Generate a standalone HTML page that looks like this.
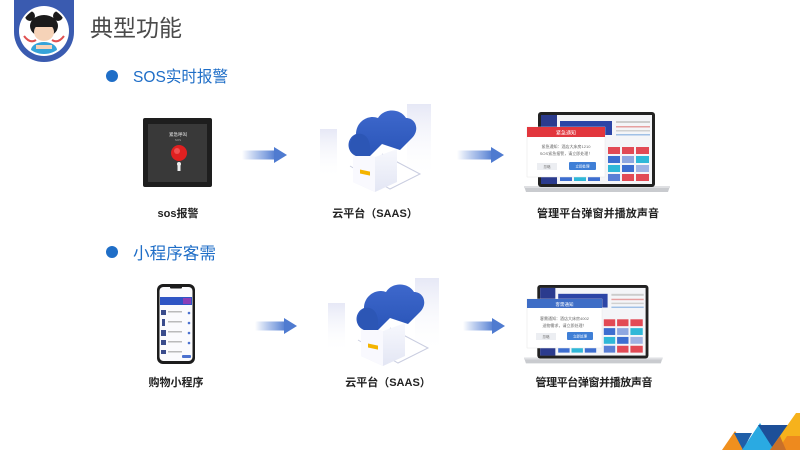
<!DOCTYPE html>
<html><head><meta charset="utf-8">
<style>
html,body{margin:0;padding:0;background:#fff;}
body{width:800px;height:450px;overflow:hidden;position:relative;font-family:"Liberation Sans","Noto Sans CJK SC",sans-serif;}
svg{position:absolute;left:0;top:0;}
.lbl{font-family:"Liberation Sans","Noto Sans CJK SC",sans-serif;font-weight:bold;font-size:11px;fill:#222;}
</style></head>
<body>
<svg width="800" height="450" viewBox="0 0 800 450" xmlns="http://www.w3.org/2000/svg">
<defs>
  <linearGradient id="arr" x1="0" x2="1" y1="0" y2="0">
    <stop offset="0" stop-color="#5b85d6" stop-opacity="0"/>
    <stop offset="0.6" stop-color="#6a90da" stop-opacity="0.7"/>
    <stop offset="1" stop-color="#4f7bd0"/>
  </linearGradient>
  <linearGradient id="cloudg" x1="0" x2="0" y1="0" y2="1">
    <stop offset="0" stop-color="#3e68cc"/>
    <stop offset="1" stop-color="#2a55b8"/>
  </linearGradient>
  <linearGradient id="barg" x1="0" x2="0" y1="0" y2="1">
    <stop offset="0" stop-color="#e6e8f6"/>
    <stop offset="1" stop-color="#ffffff" stop-opacity="0"/>
  </linearGradient>
  <linearGradient id="boxg" x1="0" x2="0" y1="0" y2="1">
    <stop offset="0" stop-color="#f7f8fd"/>
    <stop offset="1" stop-color="#e3e6f4"/>
  </linearGradient>
  <clipPath id="cc"><circle cx="44" cy="31" r="23"/></clipPath>

  <g id="cloud">
    <!-- back bars -->
    <rect x="87" y="0" width="24" height="75" fill="url(#barg)"/>
    <rect x="0" y="25" width="17" height="50" fill="url(#barg)"/>
    <!-- platform line -->
    <path d="M30 62 L70 85 L100 70 L62 50" fill="none" stroke="#c9cde0" stroke-width="1"/>
    <!-- box -->
    <path d="M33 45 L55 53 L77 45 L77 78 L55 88 L33 78 Z" fill="url(#boxg)"/>
    <path d="M33 45 L55 53 L55 88 L33 78 Z" fill="#f9f9fe"/>
    <rect x="40" y="66" width="10" height="4" fill="#f4b400" transform="skewY(12) translate(0,-9)"/>
    <!-- cloud -->
    <path d="M36 52 C26 48 26 34 36 30 C36 18 48 10 58 14 C64 4 80 4 86 14 C96 14 100 26 92 34 L80 46 L62 40 L50 52 Z" fill="url(#cloudg)"/>
    <path d="M36 30 C44 28 50 34 50 44 L50 52 L36 52 C28 48 28 36 36 30Z" fill="#2c56b5"/>
  </g>

  <g id="laptop">
    <!-- base -->
    <path d="M0 74 L146 74 L144 80 L2 80 Z" fill="#c9cbcf"/>
    <rect x="0" y="74" width="146" height="2" fill="#dfe0e3"/>
    <!-- bezel -->
    <rect x="14" y="0" width="117" height="75" rx="3" fill="#222"/>
    <rect x="17" y="3" width="111" height="69" fill="#f4f5f8"/>
    <rect x="17" y="3" width="16" height="69" fill="#2b3b8e"/>
    <rect x="36" y="9" width="52" height="14" fill="#2c45a6"/>
    <rect x="92" y="9" width="34" height="2" fill="#ccc"/>
    <rect x="92" y="14" width="34" height="1.5" fill="#e6a0a0"/>
    <rect x="92" y="18" width="34" height="1.5" fill="#d0d0d0"/>
    <rect x="92" y="22" width="34" height="1.5" fill="#a0c0e6"/>
    <!-- tiles -->
    <g>
      <rect x="84" y="35" width="12" height="7" fill="#e24a55"/>
      <rect x="98" y="35" width="12" height="7" fill="#e24a55"/>
      <rect x="112" y="35" width="13" height="7" fill="#e24a55"/>
      <rect x="84" y="44" width="12" height="7" fill="#3d6ed0"/>
      <rect x="98" y="44" width="12" height="7" fill="#8fa7e0"/>
      <rect x="112" y="44" width="13" height="7" fill="#2fb8d8"/>
      <rect x="84" y="53" width="12" height="7" fill="#2fb8d8"/>
      <rect x="98" y="53" width="12" height="7" fill="#3d6ed0"/>
      <rect x="112" y="53" width="13" height="7" fill="#9fb3e4"/>
      <rect x="84" y="62" width="12" height="7" fill="#5a7fd5"/>
      <rect x="98" y="62" width="12" height="7" fill="#e24a55"/>
      <rect x="112" y="62" width="13" height="7" fill="#e24a55"/>
      <rect x="36" y="64" width="12" height="5" fill="#3d6ed0"/>
      <rect x="50" y="64" width="12" height="5" fill="#2fb8d8"/>
      <rect x="64" y="64" width="12" height="5" fill="#3d6ed0"/>
    </g>
  </g>
</defs>

<!-- Logo badge -->
<path d="M14 0 L74 0 L74 32 A30 30 0 0 1 14 32 Z" fill="#3a5bb0"/>
<circle cx="44" cy="31" r="25" fill="#fff"/>
<g clip-path="url(#cc)">
  <circle cx="44" cy="31" r="23" fill="#fff"/>
  <ellipse cx="44" cy="26" rx="14" ry="11" fill="#1b1b1b"/>
  <circle cx="30" cy="16" r="5" fill="#1b1b1b"/>
  <circle cx="58" cy="16" r="5" fill="#1b1b1b"/>
  <ellipse cx="44" cy="32" rx="10" ry="9" fill="#f6d3b8"/>
  <rect x="34" y="22" width="20" height="5" fill="#1b1b1b"/>
  <path d="M24 36 Q30 44 36 40" stroke="#e05050" stroke-width="2" fill="none"/>
  <path d="M64 36 Q58 44 52 40" stroke="#e05050" stroke-width="2" fill="none"/>
  <ellipse cx="44" cy="50" rx="13" ry="8" fill="#36a3d9"/>
  <rect x="36" y="45" width="16" height="4" fill="#f6d3b8"/>
</g>

<!-- Title -->
<text x="90" y="36" font-family="'Liberation Sans','Noto Sans CJK SC',sans-serif" font-size="23" fill="#4a4a4a">典型功能</text>

<!-- Bullet 1 -->
<circle cx="112" cy="76" r="6" fill="#1f6ec7"/>
<text x="133" y="82" font-family="'Liberation Sans','Noto Sans CJK SC',sans-serif" font-size="16" fill="#1f6ec7" textLength="95" lengthAdjust="spacingAndGlyphs">SOS实时报警</text>

<!-- SOS device -->
<rect x="143" y="118" width="69" height="69" rx="2" fill="#1e1e1e"/>
<rect x="148" y="124" width="59" height="58" fill="#393939"/>
<text x="178" y="136" font-size="4.5" fill="#eee" text-anchor="middle" font-family="'Liberation Sans','Noto Sans CJK SC',sans-serif">紧急呼叫</text>
<text x="178" y="141" font-size="3" fill="#aaa" text-anchor="middle">SOS</text>
<circle cx="179" cy="153" r="8" fill="#e02020"/>
<circle cx="177" cy="151" r="3" fill="#f05050"/>
<rect x="177.5" y="164" width="3" height="7" fill="#eee"/>
<circle cx="179" cy="164" r="2" fill="#eee"/>

<!-- Arrows -->
<rect x="242" y="150.5" width="34" height="9" fill="url(#arr)"/>
<path d="M274 147 L287 155 L274 163 Z" fill="#4f7bd0"/>
<rect x="457" y="150.5" width="36" height="9" fill="url(#arr)"/>
<path d="M491 147 L504 155 L491 163 Z" fill="#4f7bd0"/>
<rect x="255" y="321.5" width="31" height="9" fill="url(#arr)"/>
<path d="M284 318 L297 326 L284 334 Z" fill="#4f7bd0"/>
<rect x="463" y="321.5" width="31" height="9" fill="url(#arr)"/>
<path d="M492 318 L505 326 L492 334 Z" fill="#4f7bd0"/>

<!-- Cloud 1 -->
<use href="#cloud" transform="translate(320,104)"/>
<!-- Cloud 2 -->
<use href="#cloud" transform="translate(328,278)"/>

<!-- Laptop 1 -->
<use href="#laptop" transform="translate(524,112)"/>
<g>
  <rect x="527" y="127" width="78" height="50" fill="#fff" stroke="#e6e6e6" stroke-width="0.5"/>
  <rect x="527" y="127" width="78" height="10" fill="#e2363d"/>
  <text x="566" y="134.5" font-size="5" fill="#fff" text-anchor="middle" font-family="'Liberation Sans','Noto Sans CJK SC',sans-serif">紧急通知</text>
  <text x="566" y="148" font-size="4" fill="#666" text-anchor="middle" font-family="'Liberation Sans','Noto Sans CJK SC',sans-serif">紧急通知：酒店大床房1210</text>
  <text x="566" y="155" font-size="4" fill="#666" text-anchor="middle" font-family="'Liberation Sans','Noto Sans CJK SC',sans-serif">SOS紧急报警，请立即处理！</text>
  <rect x="537" y="163" width="20" height="7" fill="#eceef2"/>
  <text x="547" y="168" font-size="3.5" fill="#777" text-anchor="middle" font-family="'Liberation Sans','Noto Sans CJK SC',sans-serif">忽略</text>
  <rect x="569" y="162" width="27" height="8" rx="1" fill="#3f7fd6"/>
  <text x="582.5" y="167.5" font-size="3.5" fill="#fff" text-anchor="middle" font-family="'Liberation Sans','Noto Sans CJK SC',sans-serif">立即处理</text>
</g>

<!-- Laptop 2 -->
<use href="#laptop" transform="translate(524,285) scale(0.95,0.98)"/>
<g>
  <rect x="527" y="299" width="75" height="49" fill="#fff" stroke="#e6e6e6" stroke-width="0.5"/>
  <rect x="527" y="299" width="75" height="9" fill="#3e6dc6"/>
  <text x="564.5" y="306" font-size="4.5" fill="#fff" text-anchor="middle" font-family="'Liberation Sans','Noto Sans CJK SC',sans-serif">客需通知</text>
  <text x="564.5" y="320" font-size="4" fill="#666" text-anchor="middle" font-family="'Liberation Sans','Noto Sans CJK SC',sans-serif">客需通知：酒店大床房4002</text>
  <text x="564.5" y="327" font-size="4" fill="#666" text-anchor="middle" font-family="'Liberation Sans','Noto Sans CJK SC',sans-serif">送物需求，请立即处理！</text>
  <rect x="536" y="333" width="20" height="7" fill="#eceef2"/>
  <text x="546" y="338" font-size="3.5" fill="#777" text-anchor="middle" font-family="'Liberation Sans','Noto Sans CJK SC',sans-serif">忽略</text>
  <rect x="567" y="332" width="26" height="8" rx="1" fill="#3f7fd6"/>
  <text x="580" y="337.5" font-size="3.5" fill="#fff" text-anchor="middle" font-family="'Liberation Sans','Noto Sans CJK SC',sans-serif">立即处理</text>
</g>

<!-- Row 1 labels -->
<text class="lbl" x="178" y="217" text-anchor="middle">sos报警</text>
<text class="lbl" x="375" y="217" text-anchor="middle">云平台（SAAS）</text>
<text class="lbl" x="598" y="217" text-anchor="middle" textLength="122" lengthAdjust="spacing">管理平台弹窗并播放声音</text>

<!-- Bullet 2 -->
<circle cx="112" cy="252" r="6" fill="#1f6ec7"/>
<text x="133" y="259" font-family="'Liberation Sans','Noto Sans CJK SC',sans-serif" font-size="16.5" fill="#1f6ec7" textLength="83" lengthAdjust="spacingAndGlyphs">小程序客需</text>

<!-- Phone -->
<rect x="157" y="284" width="38" height="80" rx="6" fill="#1c1c1c"/>
<rect x="159.5" y="287" width="33" height="74" rx="4" fill="#fbfbfd"/>
<rect x="170" y="286" width="12" height="2.5" rx="1" fill="#1c1c1c"/>
<rect x="160" y="297" width="32" height="8" fill="#2f55c4"/>
<rect x="183" y="298" width="8" height="6" fill="#8a3fb8"/>
<g fill="#3a4c8c">
  <rect x="161" y="310" width="5" height="5"/>
  <rect x="162" y="319" width="3" height="7"/>
  <rect x="161" y="330" width="5" height="6"/>
  <rect x="161" y="340" width="5" height="5"/>
  <rect x="161" y="350" width="5" height="4"/>
</g>
<g fill="#bbb">
  <rect x="168" y="311" width="14" height="1.5"/>
  <rect x="168" y="321" width="14" height="1.5"/>
  <rect x="168" y="331" width="14" height="1.5"/>
  <rect x="168" y="341" width="14" height="1.5"/>
  <rect x="168" y="351" width="14" height="1.5"/>
</g>
<g fill="#4c72cf">
  <circle cx="189" cy="313" r="1.3"/><circle cx="189" cy="323" r="1.3"/>
  <circle cx="189" cy="333" r="1.3"/><circle cx="189" cy="343" r="1.3"/>
</g>
<rect x="182" y="355" width="9" height="3" rx="1" fill="#4c72cf"/>

<!-- Row 2 labels -->
<text class="lbl" x="176" y="386" text-anchor="middle">购物小程序</text>
<text class="lbl" x="388" y="386" text-anchor="middle">云平台（SAAS）</text>
<text class="lbl" x="594" y="386" text-anchor="middle" textLength="117" lengthAdjust="spacing">管理平台弹窗并播放声音</text>

<!-- Bottom-right triangles -->
<polygon points="722,450 735,431 748,450" fill="#f0901e"/>
<polygon points="734,433 752,433 743,450" fill="#1f5fa8"/>
<polygon points="742,450 760,423 778,450" fill="#2aaae2"/>
<polygon points="758,425 790,425 774,450" fill="#1d4f98"/>
<polygon points="770,450 796,413 800,413 800,450" fill="#f6b21c"/>
<polygon points="778,450 787,436 800,436 800,450" fill="#ee8a1e"/>
<polygon points="770,450 780,436 786,450" fill="#c8702a"/>
</svg>
</body></html>
